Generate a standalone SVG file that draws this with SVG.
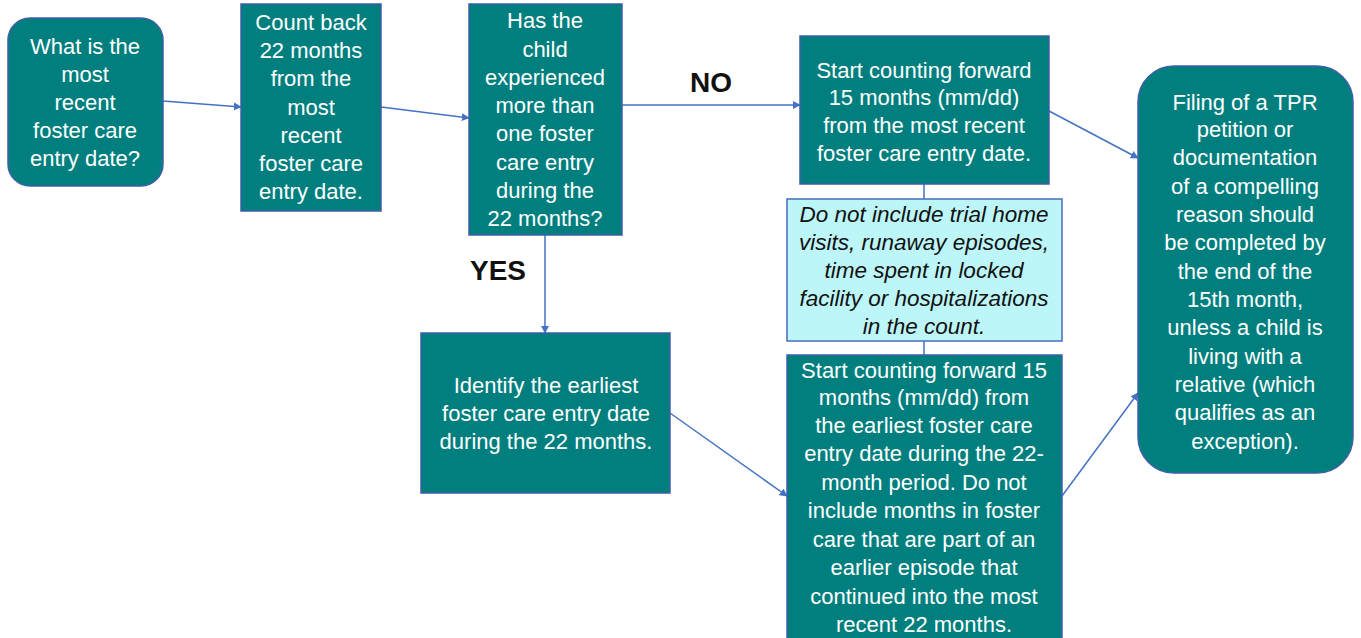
<svg xmlns="http://www.w3.org/2000/svg" width="1361" height="638" viewBox="0 0 1361 638">
<defs>
<marker id="ah" viewBox="0 0 10 10" refX="9" refY="5" markerWidth="8" markerHeight="8" markerUnits="userSpaceOnUse" orient="auto"><path d="M0,0 L10,5 L0,10 z" fill="#4472c4"/></marker>
<style>
.box{fill:#017f7e;stroke:#3f5fa8;stroke-width:1.5}
.note{fill:#bdf6f9;stroke:#4a6cc0;stroke-width:1.5}
.t{font-family:"Liberation Sans",Arial,sans-serif;font-size:22px;fill:#ffffff;text-anchor:middle;dominant-baseline:central}
.ti{font-family:"Liberation Sans",Arial,sans-serif;font-size:22.5px;font-style:italic;fill:#111;text-anchor:middle;dominant-baseline:central}
.lbl{font-family:"Liberation Sans",Arial,sans-serif;font-size:28px;font-weight:bold;fill:#111;text-anchor:middle;dominant-baseline:central}
.c{stroke:#4472c4;stroke-width:1.5;fill:none}
</style>
</defs>
<rect width="1361" height="638" fill="#ffffff"/>
<g id="connectors">
<line class="c" x1="163" y1="101" x2="241" y2="107" marker-end="url(#ah)"/>
<line class="c" x1="381" y1="107" x2="469" y2="118" marker-end="url(#ah)"/>
<line class="c" x1="622" y1="105" x2="800" y2="105" marker-end="url(#ah)"/>
<line class="c" x1="545" y1="235" x2="545" y2="333" marker-end="url(#ah)"/>
<line class="c" x1="924" y1="184" x2="924" y2="199"/>
<line class="c" x1="924" y1="341" x2="924" y2="355"/>
<line class="c" x1="670" y1="413" x2="787" y2="496" marker-end="url(#ah)"/>
<line class="c" x1="1049" y1="111" x2="1138" y2="158" marker-end="url(#ah)"/>
<line class="c" x1="1062" y1="496" x2="1138" y2="393" marker-end="url(#ah)"/>
<text class="lbl" x="711" y="82">NO</text>
<text class="lbl" x="498" y="270">YES</text>
</g>
<g id="n1">
<rect class="box" x="8" y="18" width="155" height="168" rx="22"/>
<text class="t" x="85" y="46">What is the</text>
<text class="t" x="85" y="74">most</text>
<text class="t" x="85" y="102">recent</text>
<text class="t" x="85" y="130">foster care</text>
<text class="t" x="85" y="158">entry date?</text>
</g>
<g id="n2">
<rect class="box" x="241" y="4" width="140" height="207"/>
<text class="t" x="311" y="22">Count back</text>
<text class="t" x="311" y="50">22 months</text>
<text class="t" x="311" y="78">from the</text>
<text class="t" x="311" y="107">most</text>
<text class="t" x="311" y="135">recent</text>
<text class="t" x="311" y="163">foster care</text>
<text class="t" x="311" y="191">entry date.</text>
</g>
<g id="n3">
<rect class="box" x="469" y="4" width="153" height="231"/>
<text class="t" x="545" y="20">Has the</text>
<text class="t" x="545" y="49">child</text>
<text class="t" x="545" y="77">experienced</text>
<text class="t" x="545" y="105">more than</text>
<text class="t" x="545" y="133">one foster</text>
<text class="t" x="545" y="162">care entry</text>
<text class="t" x="545" y="190">during the</text>
<text class="t" x="545" y="218">22 months?</text>
</g>
<g id="n4">
<rect class="box" x="800" y="36" width="249" height="148"/>
<text class="t" x="924" y="70">Start counting forward</text>
<text class="t" x="924" y="97">15 months (mm/dd)</text>
<text class="t" x="924" y="125">from the most recent</text>
<text class="t" x="924" y="153">foster care entry date.</text>
</g>
<g id="note">
<rect class="note" x="787" y="199" width="275" height="142"/>
<text class="ti" x="924" y="214">Do not include trial home</text>
<text class="ti" x="924" y="242">visits, runaway episodes,</text>
<text class="ti" x="924" y="270">time spent in locked</text>
<text class="ti" x="924" y="298">facility or hospitalizations</text>
<text class="ti" x="924" y="326">in the count.</text>
</g>
<g id="n5">
<rect class="box" x="421" y="333" width="249" height="160"/>
<text class="t" x="546" y="385">Identify the earliest</text>
<text class="t" x="546" y="413">foster care entry date</text>
<text class="t" x="546" y="441">during the 22 months.</text>
</g>
<g id="n6">
<rect class="box" x="787" y="355" width="275" height="290"/>
<text class="t" x="924" y="370">Start counting forward 15</text>
<text class="t" x="924" y="397">months (mm/dd) from</text>
<text class="t" x="924" y="425">the earliest foster care</text>
<text class="t" x="924" y="453">entry date during the 22-</text>
<text class="t" x="924" y="482">month period. Do not</text>
<text class="t" x="924" y="510">include months in foster</text>
<text class="t" x="924" y="539">care that are part of an</text>
<text class="t" x="924" y="567">earlier episode that</text>
<text class="t" x="924" y="596">continued into the most</text>
<text class="t" x="924" y="624">recent 22 months.</text>
</g>
<g id="n7">
<rect class="box" x="1138" y="66" width="215" height="407" rx="36"/>
<text class="t" x="1245" y="102">Filing of a TPR</text>
<text class="t" x="1245" y="129">petition or</text>
<text class="t" x="1245" y="157">documentation</text>
<text class="t" x="1245" y="186">of a compelling</text>
<text class="t" x="1245" y="214">reason should</text>
<text class="t" x="1245" y="242">be completed by</text>
<text class="t" x="1245" y="271">the end of the</text>
<text class="t" x="1245" y="299">15th month,</text>
<text class="t" x="1245" y="327">unless a child is</text>
<text class="t" x="1245" y="356">living with a</text>
<text class="t" x="1245" y="384">relative (which</text>
<text class="t" x="1245" y="412">qualifies as an</text>
<text class="t" x="1245" y="441">exception).</text>
</g>
</svg>
